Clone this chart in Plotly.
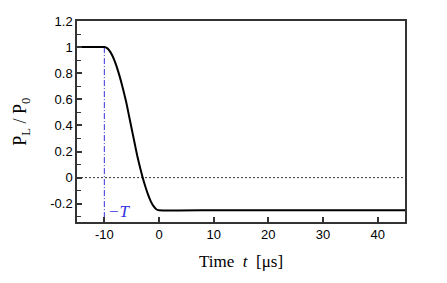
import plotly.graph_objects as go

# Data
t_vals = [-15, -10, -9.5, -9, -8.5, -8, -7.5, -7, -6.5, -6, -5.5, -5, -4.5, -4,
          -3.5, -3, -2.5, -2, -1.5, -1, -0.5, 0, 10, 20, 30, 45]
p_vals = [1.0, 1.0, 0.992, 0.969, 0.932, 0.881, 0.818, 0.747, 0.665, 0.579, 0.477,
          0.375, 0.273, 0.171, 0.084, 0.003, -0.068, -0.131, -0.182, -0.219, -0.242,
          -0.25, -0.25, -0.25, -0.25, -0.25]
T_marker_x = [-10, -10]
T_marker_y = [1.0, -0.34]
x_ticks = [-10, 0, 10, 20, 30, 40]
x_tick_text = ["-10", "0", "10", "20", "30", "40"]
y_ticks = [-0.2, 0, 0.2, 0.4, 0.6, 0.8, 1, 1.2]
y_tick_text = ["-0.2", "0", "0.2", "0.4", "0.6", "0.8", "1", "1.2"]

fig = go.Figure()
fig.add_trace(go.Scatter(x=[-15, 45], y=[0, 0], mode="lines",
                         line=dict(color="black", width=0.8, dash="2px,2px"),
                         hoverinfo="skip", showlegend=False))
fig.add_trace(go.Scatter(x=T_marker_x, y=T_marker_y, mode="lines",
                         line=dict(color="#3333dd", width=1, dash="6px,2px,1px,2px"),
                         showlegend=False))
fig.add_trace(go.Scatter(x=t_vals, y=p_vals, mode="lines",
                         line=dict(color="black", width=2, shape="spline", smoothing=0.5),
                         showlegend=False))

axis_common = dict(showgrid=False, zeroline=False, showline=True, linecolor="#333",
                   linewidth=1.5, mirror=True, ticks="inside", ticklen=5,
                   tickcolor="#333", tickwidth=1.5,
                   tickfont=dict(family="Liberation Sans, Arial", size=13, color="black"))

fig.update_xaxes(range=[-15, 45], tickvals=x_ticks, ticktext=x_tick_text, **axis_common)
fig.update_yaxes(range=[-0.34, 1.2], tickvals=y_ticks, ticktext=y_tick_text,
                 minor=dict(ticks="inside", ticklen=4, dtick=0.1, tickcolor="#333", tickwidth=1.2),
                 **axis_common)

fig.add_annotation(x=-7.3, y=-0.26, text="<i>−T</i>", showarrow=False,
                   font=dict(family="Liberation Serif, Times New Roman", size=17, color="#3333dd"))
fig.add_annotation(xref="paper", yref="paper", x=(241 - 77) / 328, y=-(263 - 222) / 208.3,
                   text="Time  <i>t</i>  [μs]", showarrow=False,
                   font=dict(family="Liberation Serif, Times New Roman", size=17, color="black"),
                   yanchor="middle", xanchor="center")
fig.add_annotation(xref="paper", yref="paper", x=-(77 - 22) / 328, y=(222 - 118) / 208.3,
                   text="P<sub>L</sub> / P<sub>0</sub>", showarrow=False, textangle=-90,
                   font=dict(family="Liberation Serif, Times New Roman", size=18, color="black"),
                   yanchor="middle", xanchor="center")

fig.update_layout(width=447, height=283, margin=dict(l=69, r=50, t=6, b=69),
                  plot_bgcolor="white", paper_bgcolor="white", showlegend=False)

fig.write_html("out.html")
